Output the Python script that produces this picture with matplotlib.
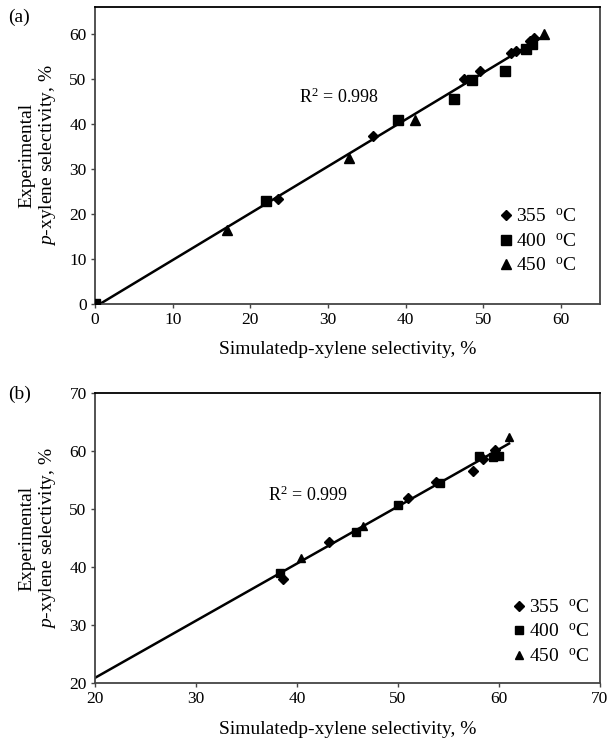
import numpy as np
import matplotlib
matplotlib.use("Agg")
import matplotlib.pyplot as plt

plt.rcParams['font.family'] = ['Liberation Serif', 'DejaVu Serif']
plt.rcParams['mathtext.fontset'] = 'custom'
plt.rcParams['mathtext.rm'] = 'Liberation Serif'
plt.rcParams['mathtext.it'] = 'Liberation Serif:italic'

series_labels = ["355  $^{\\rm o}$C", "400  $^{\\rm o}$C", "450  $^{\\rm o}$C"]

# Panel (a)
a_355_x = [23.5, 35.8, 47.5, 49.5, 53.5, 54.2, 56.0, 56.5]
a_355_y = [23.3, 37.3, 50.0, 51.8, 55.8, 56.2, 58.5, 59.2]
a_400_x = [0.0, 22.0, 39.0, 46.2, 48.5, 52.8, 55.5, 56.2]
a_400_y = [0.0, 23.0, 41.0, 45.5, 49.7, 51.8, 56.7, 57.8]
a_450_x = [17.0, 32.7, 41.2, 57.8]
a_450_y = [16.5, 32.5, 41.0, 60.0]
a_r2 = "R$^2$ = 0.998"

# Panel (b)
b_355_x = [38.6, 43.2, 51.0, 53.8, 57.4, 58.4, 59.6]
b_355_y = [38.0, 44.4, 52.0, 54.6, 56.6, 58.6, 60.2]
b_400_x = [38.3, 45.8, 50.0, 54.2, 58.0, 59.4, 60.0]
b_400_y = [38.9, 46.1, 50.7, 54.5, 59.2, 59.0, 59.1]
b_450_x = [40.4, 46.5, 61.0]
b_450_y = [41.6, 47.1, 62.5]
b_r2 = "R$^2$ = 0.999"

a_ticks = [0, 10, 20, 30, 40, 50, 60]
b_ticks = [20, 30, 40, 50, 60, 70]

xlabel = "Simulatedp-xylene selectivity, %"
ylabel = "Experimental\n$\\it{p}$-xylene selectivity, %"

fig = plt.figure(figsize=(6.15, 7.43), dpi=100)
axA = fig.add_axes([0.1545, 0.5908, 0.821, 0.3997])
axB = fig.add_axes([0.1545, 0.0808, 0.821, 0.390])

def draw(ax, xs, ys, lim, ticks, r2, r2pos, line_start, leg_anchor, panel, panel_y, ms, xpad):
    markers = ['D', 's', '^']
    for x, y, m, s, lab in zip(xs, ys, markers, ms, series_labels):
        ax.plot(x, y, linestyle='none', marker=m, color='black', markersize=s, label=lab, zorder=3)
    allx = np.concatenate([np.asarray(v, float) for v in xs])
    ally = np.concatenate([np.asarray(v, float) for v in ys])
    k, b = np.polyfit(allx, ally, 1)
    lx = np.array([line_start, allx.max()])
    ax.plot(lx, k * lx + b, color='black', lw=1.8, zorder=2)
    ax.set_xlim(lim[0][0], lim[0][1])
    ax.set_ylim(lim[1][0], lim[1][1])
    ax.set_xticks(ticks[0])
    ax.set_yticks(ticks[1])
    ax.tick_params(direction='out', length=3, width=1, labelsize=12.5, color='#444444', pad=3)
    for sp in ax.spines.values():
        sp.set_color('#444444')
        sp.set_linewidth(1.3)
    ax.spines['top'].set_color('black')
    ax.set_xlabel(xlabel, fontsize=14, labelpad=xpad)
    ax.set_ylabel(ylabel, fontsize=14, labelpad=8, linespacing=1.15)
    ax.text(r2pos[0], r2pos[1], r2, fontsize=13, va='center', ha='left')
    ax.legend(loc='center left', bbox_to_anchor=leg_anchor, frameon=False, fontsize=14,
              handletextpad=0.1, handlelength=0.8, labelspacing=0.35, borderpad=0)
    ax.text(-0.173, panel_y, panel, transform=ax.transAxes, fontsize=14, va='center', ha='left')

draw(axA, [a_355_x, a_400_x, a_450_x], [a_355_y, a_400_y, a_450_y],
     ((0, 65), (0, 66)), (a_ticks, a_ticks), a_r2, (26.2, 46.0), 0.0, (0.78, 0.21),
     "(a)", 0.966, (5, 6.5, 6.5), 9)
draw(axB, [b_355_x, b_400_x, b_450_x], [b_355_y, b_400_y, b_450_y],
     ((20, 70), (20, 70)), (b_ticks, b_ticks), b_r2, (37.1, 52.4), 20.0, (0.805, 0.175),
     "(b)", 0.995, (5, 6, 5.5), 10)

fig.savefig("out.png", dpi=100)
